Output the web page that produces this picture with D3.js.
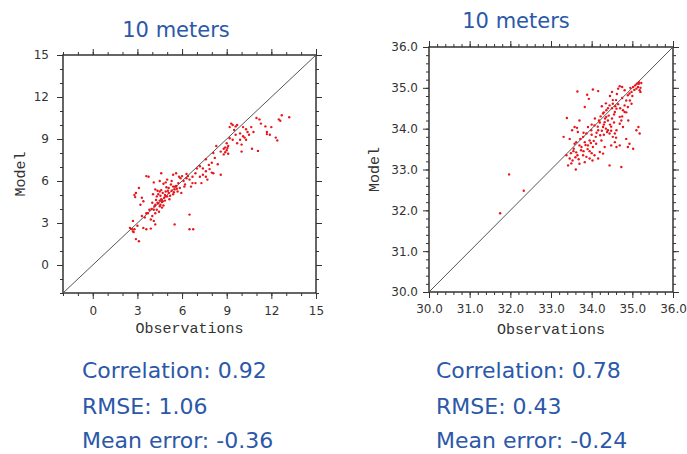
<!DOCTYPE html>
<html>
<head>
<meta charset="utf-8">
<script src="https://cdn.jsdelivr.net/npm/d3@7"></script>
<style>
  body { margin: 0; background: #fff; }
  svg { display: block; }
</style>
</head>
<body>
<div id="chart"></div>
<script>

// left panel: 10 m wind-like values, observations vs model
const leftObs = [9.3,9.4,9.6,9.2,9.5,9.7,10.1,10.3,10.65,11.0,11.2,11.3,11.7,11.9,12.0,12.5,12.7,12.6,13.2,12.3,12.4,11.7,10.8,10.4,10.1,10.3,9.9,9.7,10.0,9.6,9.4,9.1,9.0,8.8,8.9,9.1,8.6,10.0,10.7,11.1,9.9,9.2,8.9,9.0,8.8,9.05,10.2,11.6,10.5,
  8.3,8.1,8.2,7.6,7.8,7.4,7.2,7.6,7.85,7.4,6.9,7.2,7.6,8.6,8.1,6.7,6.5,6.3,6.1,6.7,6.6,6.9,7.3,5.9,5.6,5.4,5.8,5.0,4.9,5.4,5.6,5.5,5.85,5.7,6.15,5.95,7.0,8.0,7.7,6.3,6.0,8.4,8.0,
  4.6,3.6,3.75,4.1,4.5,4.2,4.5,4.7,4.9,4.3,4.6,4.0,4.2,4.5,4.1,4.2,4.0,3.9,4.1,3.6,3.3,2.9,2.8,2.85,3.1,3.3,3.2,3.4,2.7,2.5,2.7,2.8,3.0,2.9,3.1,3.4,3.6,3.9,4.2,5.5,6.5,6.5,6.75,3.7,3.8,2.65,2.75,3.5,4.35,
  4.65,4.7,5.0,5.1,5.2,5.4,5.5,5.6,5.1,4.9,4.8,4.4,4.3,4.75,4.45,4.85,5.3,5.25,5.05,4.55,4.95,5.45,5.65,4.25,4.4,4.15,4.6,5.3,4.75,5.75,6.4,6.2,5.15,4.85,4.5,4.65,4.35,4.05,3.95,4.55];
const leftModel = [10.1,10.0,9.9,9.85,9.65,10.0,9.85,9.7,9.85,10.5,10.4,10.1,9.5,9.3,9.85,10.4,10.7,10.3,10.55,9.1,8.9,9.35,9.5,9.5,9.2,8.95,8.95,8.7,8.6,9.3,8.95,8.5,8.2,8.3,8.05,7.95,8.1,8.1,8.3,8.15,9.4,9.05,8.4,8.7,7.9,8.35,9.1,9.9,9.3,
  8.5,8.0,7.65,7.55,7.15,6.9,7.05,6.7,6.85,6.45,6.55,6.3,6.3,6.45,6.55,6.3,6.1,6.2,6.0,5.85,5.6,5.85,5.85,6.2,6.55,6.45,6.3,6.1,5.9,5.6,5.65,5.4,5.5,5.25,5.6,5.15,6.9,6.6,6.1,6.5,6.35,7.2,7.3,
  6.55,6.35,6.3,5.9,6.0,5.4,5.25,5.15,4.9,4.9,4.7,4.45,4.3,4.2,3.95,3.7,3.5,3.25,3.15,3.7,3.5,5.15,5.0,4.85,5.5,4.8,4.3,4.55,3.15,2.65,2.4,2.55,2.8,1.85,1.7,2.65,2.55,2.6,2.9,2.9,3.6,2.55,2.55,3.7,3.95,2.55,2.35,3.4,4.45,
  4.5,4.55,4.9,5.15,4.95,5.05,5.6,5.6,5.5,5.25,4.8,4.4,3.95,4.25,3.8,5.0,5.3,5.75,5.3,4.95,5.55,5.2,5.45,4.65,5.05,4.2,5.35,6.0,5.8,5.85,6.35,5.75,4.7,4.6,4.6,4.1,5.3,5.05,4.0,4.3];

// right panel: observations vs model, 30-36 range
const rightObs = [31.75,31.97,32.33,33.39,33.31,33.64,33.65,33.89,33.83,33.93,34.03,34.16,33.38,33.46,33.53,33.49,33.56,33.58,33.62,33.70,33.74,33.79,33.87,33.95,34.02,34.07,33.79,33.87,33.95,33.99,33.91,34.07,34.16,34.21,34.28,34.32,34.36,34.40,34.44,34.24,34.11,34.03,33.91,33.83,
  34.28,34.36,34.44,34.52,34.57,34.61,34.69,34.73,34.77,34.81,34.85,34.89,34.93,34.81,34.69,34.65,34.75,34.98,35.02,35.07,35.11,35.14,35.16,35.18,35.16,35.10,34.94,34.89,34.98,34.81,34.77,34.69,34.61,34.57,34.52,34.48,34.57,34.69,34.61,34.44,34.73,35.10,35.15,35.18,34.93,35.02,34.89,
  33.70,33.58,33.52,33.46,33.66,33.42,33.61,33.70,33.83,34.16,34.28,34.32,34.20,
  34.3,34.35,34.25,34.4,34.3,34.45,34.2,34.38,34.33,34.15,34.42,34.5,34.55,34.48,34.1,34.05,33.98,34.0,34.12,34.22,34.3,34.4,34.5,34.6,34.65,34.55,34.7,34.85,35.0,35.05,35.2,35.22,35.2,34.95,34.62,34.75,
  33.65,33.6,33.55,33.68,33.75,33.8,33.9,33.85,33.95,34.0,33.5,33.62,33.72,33.8,34.18,34.08,34.0,34.25,34.35,34.45,34.5,34.58,34.75,34.9,34.85,34.6,34.48,34.52];
const rightModel = [31.93,32.88,32.48,34.26,33.80,34.02,34.91,34.83,34.53,34.73,34.96,34.92,33.35,33.27,33.22,33.40,33.51,33.63,33.67,33.59,33.47,33.35,33.31,33.27,33.22,33.35,33.80,33.88,33.71,33.96,34.04,34.08,33.96,33.84,34.04,34.16,34.29,33.96,33.88,33.71,33.63,33.55,33.59,33.67,
  34.37,34.45,34.57,34.61,34.41,34.49,34.29,34.20,34.45,34.57,34.69,34.82,34.86,34.94,35.04,34.98,35.02,34.90,35.02,35.06,35.10,35.02,35.10,34.94,35.14,34.98,34.69,34.53,34.61,34.41,34.04,34.12,33.96,33.88,33.80,33.59,33.67,33.59,33.55,33.10,33.06,33.96,34.04,33.88,33.63,33.51,33.55,
  34.20,34.04,33.96,33.75,33.92,33.10,33.00,33.14,33.18,33.27,33.39,33.55,33.43,
  34.1,34.0,33.95,34.2,33.85,34.1,34.15,33.92,34.25,34.05,34.32,34.25,34.15,34.05,33.8,33.7,33.65,33.85,33.9,34.3,34.4,34.5,34.5,34.7,34.6,34.35,34.5,34.4,34.8,34.95,35.0,35.12,34.9,35.0,34.85,34.75,
  33.35,33.3,33.45,33.25,33.55,33.45,33.5,33.6,33.45,33.4,33.15,33.42,33.75,33.9,34.2,34.25,34.1,34.55,34.62,34.8,34.9,34.55,34.3,34.2,33.75,33.78,33.95,34.7];

const leftMajor = [0, 3, 6, 9, 12, 15];
const leftMinor = d3.range(-2, 15.01, 1);
const rightMajor = [30, 31, 32, 33, 34, 35, 36];
const rightMinor = d3.range(30, 36.01, 0.2);

const titles = ["10 meters", "10 meters"];
const leftStats = ["Correlation: 0.92", "RMSE: 1.06", "Mean error: -0.36"];
const rightStats = ["Correlation: 0.78", "RMSE: 0.43", "Mean error: -0.24"];

const W = 687, H = 454;
const svg = d3.select("#chart").append("svg")
    .attr("width", W)
    .attr("height", H);

function drawPanel(p) {
    const x = d3.scaleLinear().domain(p.domain).range([p.x0, p.x1]);
    const y = d3.scaleLinear().domain(p.domain).range([p.y1, p.y0]);
    const g = svg.append("g");

    // minor ticks on all four sides
    const minorAxes = [
        [d3.axisBottom(x), "translate(0," + p.y1 + ")"],
        [d3.axisTop(x), "translate(0," + p.y0 + ")"],
        [d3.axisLeft(y), "translate(" + p.x0 + ",0)"],
        [d3.axisRight(y), "translate(" + p.x1 + ",0)"]
    ];
    minorAxes.forEach(function(a) {
        g.append("g")
            .attr("transform", a[1])
            .call(a[0].tickValues(p.minor).tickFormat("").tickSize(3))
            .call(s => s.select(".domain").remove());
    });

    // major ticks, labels on left and bottom only
    const fmt = p.fmt;
    const majorAxes = [
        [d3.axisBottom(x).tickFormat(fmt).tickPadding(p.padB), "translate(0," + p.y1 + ")"],
        [d3.axisTop(x).tickFormat(""), "translate(0," + p.y0 + ")"],
        [d3.axisLeft(y).tickFormat(fmt).tickPadding(p.padL), "translate(" + p.x0 + ",0)"],
        [d3.axisRight(y).tickFormat(""), "translate(" + p.x1 + ",0)"]
    ];
    majorAxes.forEach(function(a) {
        g.append("g")
            .attr("transform", a[1])
            .call(a[0].tickValues(p.major).tickSize(6))
            .call(s => s.select(".domain").remove())
            .call(s => s.selectAll("text")
                .attr("font-family", "DejaVu Sans, sans-serif")
                .attr("font-size", 12)
                .attr("fill", "#333"));
    });
    g.selectAll(".tick line").attr("stroke", "#333");

    // frame
    g.append("rect")
        .attr("x", p.x0).attr("y", p.y0)
        .attr("width", p.x1 - p.x0).attr("height", p.y1 - p.y0)
        .attr("fill", "none")
        .attr("stroke", "#333")
        .attr("stroke-width", 1.5);

    // 1:1 line
    g.append("line")
        .attr("x1", x(p.domain[0])).attr("y1", y(p.domain[0]))
        .attr("x2", x(p.domain[1])).attr("y2", y(p.domain[1]))
        .attr("stroke", "#555")
        .attr("stroke-width", 1);

    // points
    g.selectAll("circle.pt")
        .data(d3.zip(p.obs, p.model))
        .enter()
        .append("circle")
        .attr("class", "pt")
        .attr("cx", d => x(d[0]))
        .attr("cy", d => y(d[1]))
        .attr("r", 1.2)
        .attr("fill", "#e8151b");

    // axis titles
    g.append("text")
        .attr("transform", "translate(" + p.ylabX + "," + ((p.y0 + p.y1) / 2) + ") rotate(-90)")
        .attr("text-anchor", "middle")
        .attr("dominant-baseline", "central")
        .attr("font-family", "Liberation Mono, monospace")
        .attr("font-size", 15)
        .attr("fill", "#333")
        .text("Model");
    g.append("text")
        .attr("x", (p.x0 + p.x1) / 2)
        .attr("y", p.xlabY)
        .attr("text-anchor", "middle")
        .attr("dominant-baseline", "central")
        .attr("font-family", "Liberation Mono, monospace")
        .attr("font-size", 15)
        .attr("fill", "#333")
        .text("Observations");

    // panel title
    g.append("text")
        .attr("x", p.titleX)
        .attr("y", p.titleY)
        .attr("text-anchor", "middle")
        .attr("font-family", "DejaVu Sans, sans-serif")
        .attr("font-size", 21)
        .attr("fill", "#2b58a8")
        .text(p.title);

    // statistics below
    g.selectAll("text.stat")
        .data(p.stats)
        .enter()
        .append("text")
        .attr("class", "stat")
        .attr("x", p.statX)
        .attr("y", (d, i) => p.statY[i])
        .attr("font-family", "DejaVu Sans, sans-serif")
        .attr("font-size", 22)
        .attr("fill", "#2b58a8")
        .text(d => d);
}

drawPanel({
    domain: [-2, 15], x0: 63, x1: 316, y0: 55, y1: 293,
    major: leftMajor, minor: leftMinor, fmt: d3.format("d"),
    padB: 7, padL: 8,
    obs: leftObs, model: leftModel,
    ylabX: 21, xlabY: 329,
    title: titles[0], titleX: 176, titleY: 37,
    stats: leftStats, statX: 82, statY: [378, 414, 448]
});

drawPanel({
    domain: [30, 36], x0: 429, x1: 673, y0: 47, y1: 292,
    major: rightMajor, minor: rightMinor, fmt: d3.format(".1f"),
    padB: 6, padL: 5,
    obs: rightObs, model: rightModel,
    ylabX: 375, xlabY: 330,
    title: titles[1], titleX: 516, titleY: 28,
    stats: rightStats, statX: 436, statY: [378, 414, 448]
});

</script>
</body>
</html>
